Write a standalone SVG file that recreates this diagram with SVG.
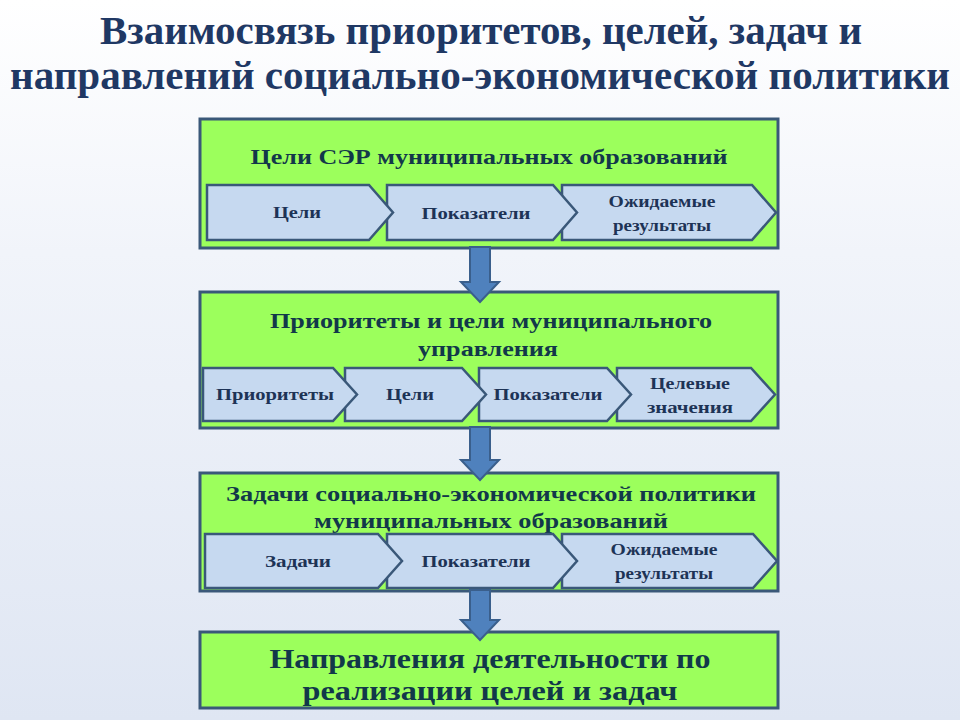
<svg xmlns="http://www.w3.org/2000/svg" width="960" height="720" viewBox="0 0 960 720">
<defs>
<linearGradient id="bg" x1="0" y1="0" x2="0" y2="1">
<stop offset="0" stop-color="#ffffff"/>
<stop offset="0.35" stop-color="#f1f4fa"/>
<stop offset="1" stop-color="#dfe6f3"/>
</linearGradient>
</defs>
<style>
.box{fill:#9cff5c;stroke:#3a5879;stroke-width:3}
.chev{fill:#c6d9f0;stroke:#3a5879;stroke-width:2.5;stroke-linejoin:miter}
.arrow{fill:#4f81bd;stroke:#3a5f8c;stroke-width:2;stroke-linejoin:miter}
.t{font-family:"Liberation Serif","Times New Roman",serif;font-weight:bold;text-anchor:middle}
.main{font-size:40px;fill:#1f3864}
.bt{font-size:21px;fill:#12384a}
.bt4{font-size:28px;fill:#12384a}
.ct{font-size:16px;fill:#1d3356}
</style>
<rect x="0" y="0" width="960" height="720" fill="url(#bg)"/>

<g id="title">
<text class="t main" x="481" y="44" textLength="762" lengthAdjust="spacingAndGlyphs">Взаимосвязь приоритетов, целей, задач и</text>
<text class="t main" x="480" y="89" textLength="940" lengthAdjust="spacingAndGlyphs">направлений  социально-экономической политики</text>
</g>

<g id="node1">
<rect class="box" x="200" y="119" width="578" height="129"/>
<text class="t bt" x="489" y="164" textLength="477" lengthAdjust="spacingAndGlyphs">Цели СЭР муниципальных образований</text>
<polygon class="chev" points="562,185 752,185 776,212.5 752,240 562,240"/>
<polygon class="chev" points="387,185 553,185 577,212.5 553,240 387,240"/>
<polygon class="chev" points="207,185 369,185 393,212.5 369,240 207,240"/>
<text class="t ct" x="297" y="218" textLength="48" lengthAdjust="spacingAndGlyphs">Цели</text>
<text class="t ct" x="476" y="219" textLength="109" lengthAdjust="spacingAndGlyphs">Показатели</text>
<text class="t ct" x="662" y="207" textLength="107" lengthAdjust="spacingAndGlyphs">Ожидаемые</text>
<text class="t ct" x="662" y="231" textLength="98" lengthAdjust="spacingAndGlyphs">результаты</text>
</g>

<g id="node2">
<rect class="box" x="200" y="292" width="578" height="136"/>
<text class="t bt" x="491" y="328" textLength="442" lengthAdjust="spacingAndGlyphs">Приоритеты и цели муниципального</text>
<text class="t bt" x="488" y="356" textLength="140" lengthAdjust="spacingAndGlyphs">управления</text>
<polygon class="chev" points="617,368 751,368 775,394.5 751,421 617,421"/>
<polygon class="chev" points="479,368 607,368 631,394.5 607,421 479,421"/>
<polygon class="chev" points="345,368 462,368 486,394.5 462,421 345,421"/>
<polygon class="chev" points="203,368 333,368 357,394.5 333,421 203,421"/>
<text class="t ct" x="275" y="400" textLength="118" lengthAdjust="spacingAndGlyphs">Приоритеты</text>
<text class="t ct" x="410" y="400" textLength="48" lengthAdjust="spacingAndGlyphs">Цели</text>
<text class="t ct" x="548" y="400" textLength="109" lengthAdjust="spacingAndGlyphs">Показатели</text>
<text class="t ct" x="690" y="389" textLength="80" lengthAdjust="spacingAndGlyphs">Целевые</text>
<text class="t ct" x="690" y="413" textLength="86" lengthAdjust="spacingAndGlyphs">значения</text>
</g>

<g id="node3">
<rect class="box" x="200" y="473" width="578" height="118"/>
<text class="t bt" x="491" y="501" textLength="530" lengthAdjust="spacingAndGlyphs">Задачи социально-экономической политики</text>
<text class="t bt" x="491" y="528" textLength="354" lengthAdjust="spacingAndGlyphs">муниципальных образований</text>
<polygon class="chev" points="562,534 753,534 777,561 753,588 562,588"/>
<polygon class="chev" points="387,534 553,534 577,561 553,588 387,588"/>
<polygon class="chev" points="205,534 378,534 402,561 378,588 205,588"/>
<text class="t ct" x="298" y="567" textLength="66" lengthAdjust="spacingAndGlyphs">Задачи</text>
<text class="t ct" x="476" y="567" textLength="109" lengthAdjust="spacingAndGlyphs">Показатели</text>
<text class="t ct" x="664" y="555" textLength="107" lengthAdjust="spacingAndGlyphs">Ожидаемые</text>
<text class="t ct" x="664" y="579" textLength="98" lengthAdjust="spacingAndGlyphs">результаты</text>
</g>

<g id="node4">
<rect class="box" x="200" y="632" width="578" height="76"/>
<text class="t bt4" x="490" y="668" textLength="441" lengthAdjust="spacingAndGlyphs">Направления деятельности по</text>
<text class="t bt4" x="490" y="700" textLength="375" lengthAdjust="spacingAndGlyphs">реализации целей и задач</text>
</g>

<g id="connectors">
<path class="arrow" d="M470,247 H490 V282 H499 L480,302 L461,282 H470 Z"/>
<path class="arrow" d="M470,427 H490 V460 H499 L480,480 L461,460 H470 Z"/>
<path class="arrow" d="M470,590 H490 V620 H499 L480,640 L461,620 H470 Z"/>
</g>
</svg>
